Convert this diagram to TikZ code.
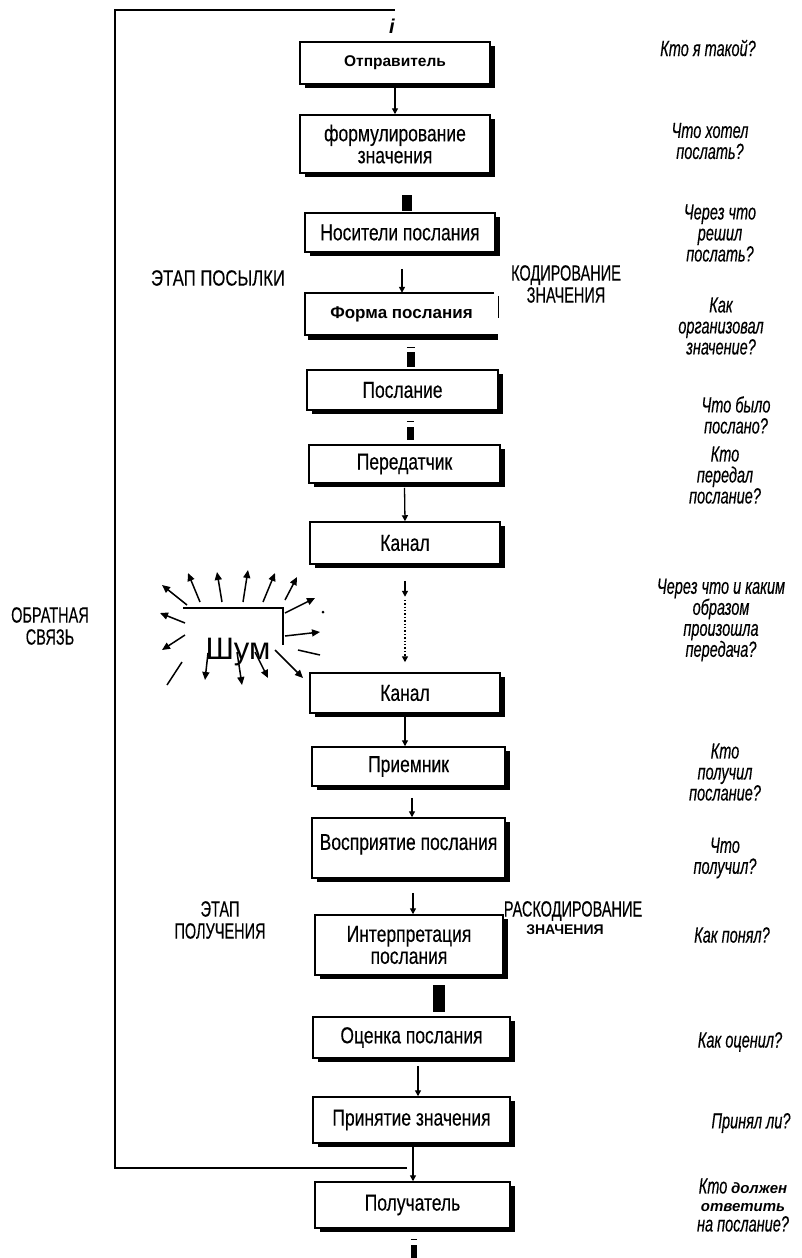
\documentclass[tikz,border=0pt]{standalone}
\usepackage{fontspec}
\setmainfont{Liberation Sans}
\newfontfamily\narA[FakeStretch=0.76,FakeBold=0.3]{Liberation Sans}
\newfontfamily\narQ[FakeStretch=0.66,FakeBold=0.3]{Liberation Sans}
\usetikzlibrary{arrows.meta,shadows}
\begin{document}
\begin{tikzpicture}[x=1pt,y=-1pt,
  box/.style={draw,line width=1.5pt,fill=white,inner sep=2pt,align=center,
    font=\fontsize{23}{22}\narA,
    drop shadow={shadow xshift=5pt,shadow yshift=-4pt,fill=black,opacity=1}},
  bx/.style 2 args={box,minimum width=#1,minimum height=#2},
  arr/.style={line width=1.3pt,-{Triangle[length=6pt,width=6pt]}},
  narr/.style={line width=1.5pt,-{Triangle[length=8pt,width=7pt]}},
  bar/.style={fill=black,inner sep=0pt,minimum width=#1},
  q/.style={align=center,inner sep=0pt,font=\fontsize{22}{21}\narQ\itshape},
  lab/.style={align=center,inner sep=0pt,font=\fontsize{22}{22}\narQ},
  fb/.style={line width=1.8pt}
]
\useasboundingbox (0,0) rectangle (802,1258);
\fill[white] (0,0) rectangle (802,1258);

% boxes
\node[bx={190pt}{42pt},font=\fontsize{15.5}{17}\bfseries] (sender) at (395,63) {Отправитель};
\node[bx={190pt}{58pt}] (formul) at (395,144) {формулирование\\значения};
\node[bx={190pt}{39pt}] (nos) at (400,232.5) {Носители послания};
\node[inner sep=0pt,minimum width=193pt,minimum height=42pt,font=\fontsize{17}{19}\bfseries] (forma) at (401.5,314) {Форма послания};
\node[bx={191pt}{40pt}] (posl) at (402.5,390) {Послание};
\node[bx={191pt}{38pt}] (pered) at (404.5,464) {Передатчик};
\node[bx={190pt}{42pt}] (kanal1) at (405,543) {Канал};
\node[bx={190pt}{40pt}] (kanal2) at (405,693) {Канал};
\node[bx={193pt}{39pt}] (priem) at (408.5,766.5) {Приемник};
\node[bx={193pt}{60pt}] (vospr) at (408.5,848) {\raisebox{12pt}{Восприятие послания}};
\node[bx={188pt}{60pt}] (interp) at (409,945) {Интерпретация\\послания};
\node[bx={197pt}{41pt}] (ocenka) at (411.5,1037.5) {Оценка послания};
\node[bx={197pt}{46pt}] (prin) at (411.5,1120) {Принятие значения};
\node[bx={195pt}{46pt}] (polu) at (412.5,1205) {Получатель};

% Форма послания box (open right side)
\fill[black] ([xshift=3pt]forma.south west) rectangle ([yshift=-5pt]forma.south east);
\draw[line width=1.5pt] ([xshift=-4pt]forma.north east) -- (forma.north west) -- (forma.south west) -- (forma.south east);
\draw[line width=0.8pt] ([yshift=-3pt]forma.north east) -- ([yshift=17pt]forma.south east);

% connectors
\draw[arr] (sender.south) -- (formul.north);
\node[bar=10pt,minimum height=16pt] (b1) at (407,203) {};
\draw[arr] ([xshift=2pt,yshift=-16pt]nos.south) -- ([xshift=0.5pt]forma.north);
\node[bar=8pt,minimum height=15pt] (b2) at (411,359.5) {};
\draw[line width=1.2pt] ([yshift=4.5pt]b2.north west) -- ([yshift=4.5pt]b2.north east);
\node[bar=7pt,minimum height=13pt] (b3) at (410.5,433.5) {};
\draw[line width=1.2pt] ([yshift=5pt]b3.north west) -- ([yshift=5pt]b3.north east);
\draw[arr] ([yshift=-4pt]pered.south) -- (kanal1.north);
\draw[arr] ([yshift=-16pt]kanal1.south) -- ([yshift=-32pt]kanal1.south);
\draw[line width=1.4pt,dotted,-{Triangle[length=6pt,width=6pt]}] ([yshift=-35pt]kanal1.south) -- ([yshift=10pt]kanal2.north);
\draw[arr] (kanal2.south) -- ([xshift=-3.5pt]priem.north);
\draw[arr] ([xshift=3.5pt,yshift=-11pt]priem.south) -- ([xshift=3.5pt]vospr.north);
\draw[arr] ([xshift=4.5pt,yshift=-14pt]vospr.south) -- ([xshift=4pt]interp.north);
\node[bar=12pt,minimum height=27pt] (b4) at (439,998.5) {};
\draw[arr] ([xshift=6.5pt,yshift=-7pt]ocenka.south) -- ([xshift=6.5pt]prin.north);
\draw[arr] ([xshift=1.5pt]prin.south) -- ([xshift=0.5pt]polu.north);
\node[bar=6pt,minimum height=13pt] (b5) at (414,1251.5) {};
\draw[line width=1.2pt] ([yshift=5pt]b5.north west) -- ([yshift=5pt]b5.north east);

% feedback loop
\coordinate (fbj) at (407,1168);
\coordinate (fbbl) at (115,1168);
\coordinate (fbtl) at (115,10);
\coordinate (fbtr) at (395,10);
\draw[fb] (fbj) -- (fbbl) -- (fbtl) -- (fbtr);
\node[font=\fontsize{20}{20}\bfseries\itshape,inner sep=0pt] (iarr) at (392,26) {i};

% noise
\draw[line width=1.5pt] (183,608) -- (283,608) -- (283,645);
\node[font=\fontsize{31}{31}\selectfont,inner sep=0pt] (shum) at (238,652) {Шум};
\draw[narr] (187,605) -- (162,585);
\draw[narr] (200,602) -- (188,573);
\draw[narr] (222,602) -- (217,572);
\draw[narr] (243,602) -- (248,570);
\draw[narr] (263,602) -- (275,573);
\draw[narr] (285,600) -- (297,577);
\draw[narr] (285,613) -- (315,598);
\fill (323,612) circle (1.5pt);
\draw[narr] (285,636) -- (320,632);
\draw[line width=1.5pt] (298,650) -- (320,655);
\draw[narr] (185,623) -- (160,613);
\draw[narr] (185,635) -- (162,650);
\draw[line width=1.5pt] (182,662) -- (167,685);
\draw[narr] (208,653) -- (205,680);
\draw[narr] (237,652) -- (242,685);
\draw[narr] (255,652) -- (268,678);
\draw[narr] (275,650) -- (303,678);

% labels
\node[lab,font=\fontsize{22}{22}\narA] (etap1) at (218,278) {ЭТАП ПОСЫЛКИ};
\node[lab] (kod) at (566,284) {КОДИРОВАНИЕ\\ЗНАЧЕНИЯ};
\node[lab] (obr) at (50,626) {ОБРАТНАЯ\\СВЯЗЬ};
\node[lab] (etap2) at (220,920) {ЭТАП\\ПОЛУЧЕНИЯ};
\node[lab] (rask) at (573,911) {РАСКОДИРОВАНИЕ};
\node[inner sep=0pt,font=\fontsize{14}{15}\bfseries] (rask2) at (565,930) {ЗНАЧЕНИЯ};

% questions
\node[q] (q1) at (708,48) {Кто я такой?};
\node[q] (q2) at (710,141) {Что хотел\\послать?};
\node[q] (q3) at (720,233) {Через что\\решил\\послать?};
\node[q] (q4) at (721,326) {Как\\организовал\\значение?};
\node[q] (q5) at (736,415) {Что было\\послано?};
\node[q] (q6) at (725,475) {Кто\\передал\\послание?};
\node[q] (q7) at (721,620) {Через что и каким\\образом\\произошла\\передача?};
\node[q] (q8) at (725,772) {Кто\\получил\\послание?};
\node[q] (q9) at (725,858) {Что\\получил?};
\node[q] (q10) at (732,935) {Как понял?};
\node[q] (q11) at (740,1042) {Как оценил?};
\node[q] (q12) at (751,1123) {Принял ли?};
\node[q] (q13) at (743,1205) {Кто\,{\fontsize{15}{16}\selectfont\normalfont\bfseries\itshape должен}\\[-3pt]{\fontsize{15}{16}\selectfont\normalfont\bfseries\itshape ответить}\\[-1pt]на послание?};
\end{tikzpicture}
\end{document}
